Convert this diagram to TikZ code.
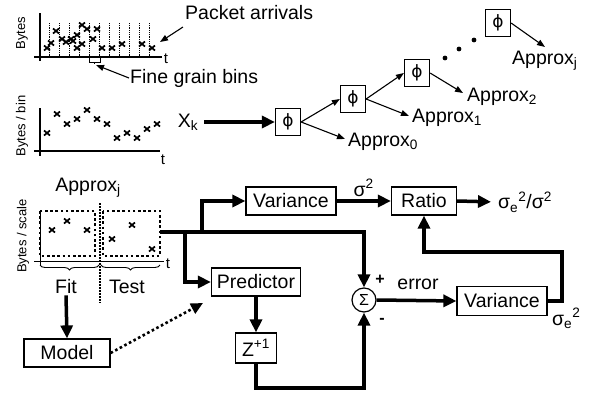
\documentclass[tikz,border=0pt]{standalone}
\usepackage{fontspec}
\setmainfont{Liberation Sans}
\newfontfamily\phifont{DejaVu Sans}
\usetikzlibrary{arrows.meta, decorations.pathreplacing}

\tikzset{
  lbl/.style={font=\fontsize{19.5}{21}\selectfont, inner sep=1pt},
  axlbl/.style={font=\fontsize{13}{15}\selectfont, rotate=90, inner sep=0pt},
  tlbl/.style={font=\fontsize{15}{17}\selectfont, inner sep=0pt},
  blk/.style={draw, line width=1.2pt, font=\fontsize{19.5}{21}\selectfont, minimum height=28pt, inner sep=0pt},
  phibox/.style={draw, line width=1.2pt, minimum width=25pt, minimum height=27pt, inner sep=0pt, font=\phifont\fontsize{17}{19}\selectfont},
  thinarr/.style={line width=1.1pt, -{Triangle[length=8pt,width=6pt]}},
  flow/.style={line width=3.5pt, -{Triangle[length=13pt,width=12pt]}},
  xm/.style={line width=1.7pt},
  binline/.style={densely dotted, line width=0.8pt},
  window/.style={line width=2.6pt, dash pattern=on 2.6pt off 2.6pt},
}

\begin{document}
\begin{tikzpicture}[x=1pt, y=-1pt]
\useasboundingbox (0,0) rectangle (590,394);

% packet arrivals plot
\draw[line width=2.2pt] (40,13) -- (40,61);
\draw[line width=2.2pt] (34,57) -- (162,57);
\node[tlbl] (t1) at (166,59) {t};
\node[axlbl] (ylab1) at (22,33) {Bytes};
\foreach \gx in {49,59,...,149}
  \draw[binline] (\gx,23) -- (\gx,57);
\foreach \cx/\cy in {47/48,51/43,56/31,62/39,66/42,71/39,73/41,77/35,77/48,82/25,82/44,87/29,93/39,97/29,102/48,112/48,122/44,142/44,152/48}
  \draw[xm] (\cx-3,\cy-2.5) -- (\cx+3,\cy+2.5) (\cx-3,\cy+2.5) -- (\cx+3,\cy-2.5);
\draw[line width=1pt] (89,58) -- (89,62) -- (100,62) -- (100,58) (94.5,62) -- (94.5,64);
\coordinate (bins) at (96,65);
\coordinate (pkts) at (160,42);
\node[lbl, anchor=west] (pa) at (184,13) {Packet arrivals};
\node[lbl, anchor=west] (fgb) at (129,78) {Fine grain bins};
\draw[thinarr] (183,27) -- (pkts);
\draw[thinarr] (fgb.west) -- (bins);

% binned series
\draw[line width=2.2pt] (40,108) -- (40,156);
\draw[line width=2.2pt] (34,151) -- (160,151);
\node[tlbl] (t2) at (163,160) {t};
\node[axlbl] (ylab2) at (22,126) {Bytes / bin};
\foreach \cx/\cy in {47/133,57/114,67/124,77/119,87/110,97/119,107/124,117/138,127/133,137/138,147/129,157/124}
  \draw[xm] (\cx-3,\cy-2.5) -- (\cx+3,\cy+2.5) (\cx-3,\cy+2.5) -- (\cx+3,\cy-2.5);

% wavelet tree
\node[lbl] (xk) at (188,122) {X\textsubscript{k}};
\node[phibox] (phi0) at (288,122) {ϕ};
\node[phibox] (phi1) at (353,99) {ϕ};
\node[phibox] (phi2) at (417,73) {ϕ};
\node[phibox] (phij) at (498,23) {ϕ};
\node[lbl, anchor=west] (a0) at (347,142) {Approx\textsubscript{0}};
\node[lbl, anchor=west] (a1) at (411,118) {Approx\textsubscript{1}};
\node[lbl, anchor=west] (a2) at (466,97) {Approx\textsubscript{2}};
\node[lbl, anchor=west] (aj) at (511,61) {Approx\textsubscript{j}};
\draw[flow] (204,122) -- (phi0.west);
\draw[thinarr] (phi0.east) -- (phi1.west);
\draw[thinarr] (phi0.east) -- (345,139);
\draw[thinarr] (phi1.east) -- (phi2.west);
\draw[thinarr] (phi1.east) -- (409,116);
\draw[thinarr] (phi2.east) -- (463,93);
\draw[thinarr] (phij.east) -- (545,47);
\foreach \dx/\dy in {445/58,459/49,474/40}
  \fill (\dx,\dy) circle (2.4pt);

% approximation split into fit and test
\node[lbl] (aprx) at (88,188) {Approx\textsubscript{j}};
\node[axlbl] (ylab3) at (23,236) {Bytes / scale};
\draw[line width=1pt] (40,212) -- (40,266);
\draw[line width=1pt] (34,261) -- (164,261);
\node[tlbl] (t3) at (168,264) {t};
\draw[window] (40,211) rectangle (95,256);
\draw[window] (103,211) rectangle (160,256);
\draw[dash pattern=on 1.5pt off 1.5pt, line width=1.2pt] (100,203) -- (100,303);
\foreach \cx/\cy in {52/230,67/221,87/230,112/239,132/225,152/249}
  \draw[xm] (\cx-3,\cy-2.5) -- (\cx+3,\cy+2.5) (\cx-3,\cy+2.5) -- (\cx+3,\cy-2.5);
\draw[line width=0.9pt, decorate, decoration={brace, mirror, amplitude=5pt}] (40,265) -- (99,265);
\draw[line width=0.9pt, decorate, decoration={brace, mirror, amplitude=5pt}] (101,265) -- (160,265);
\node[lbl] (fit) at (66,287) {Fit};
\node[lbl] (test) at (127,287) {Test};

% prediction loop
\node[blk, minimum width=90pt] (var1) at (291,201) {Variance};
\node[blk, minimum width=65pt] (ratio) at (424,201) {Ratio};
\node[lbl, anchor=west] (out) at (497,202) {σ\textsubscript{e}\textsuperscript{2}/σ\textsuperscript{2}};
\node[blk, minimum width=89pt] (pred) at (256,282) {Predictor};
\node[draw, circle, line width=1.2pt, minimum size=24pt, inner sep=0pt, font=\fontsize{16}{18}\selectfont] (sum) at (364,300) {Σ};
\node[blk, minimum width=90pt, minimum height=29pt] (var2) at (502,301) {Variance};
\node[blk, minimum width=41pt, minimum height=30pt] (zinv) at (256,348) {Z\textsuperscript{+1}};
\node[blk, minimum width=86pt] (model) at (67,353) {Model};

\coordinate (src) at (160,232);
\coordinate (br1) at (185,232);
\coordinate (br2) at (202,232);
\draw[flow] (src) -| (sum.north);
\draw[flow] (br1) |- (pred.west);
\draw[flow] (br2) |- (var1.west);
\draw[flow] (var1.east) -- node[lbl, above=2pt] (s2) {σ\textsuperscript{2}} (ratio.west);
\draw[flow, shorten >=6pt] (ratio.east) -- (out.west);
\draw[flow] (sum.east) -- (var2.west);
\draw[flow] (var2.east) -| (562,252) -| (ratio.south);
\node[lbl, anchor=north west] (se) at (551,307) {σ\textsubscript{e}\textsuperscript{2}};
\draw[flow] (pred.south) -- (zinv.north);
\draw[flow] (zinv.south) -- (256,388) -| (sum.south);
\node[font=\bfseries\fontsize{16}{18}\selectfont] (plus) at (380,280) {+};
\node[font=\bfseries\fontsize{16}{18}\selectfont] (minus) at (382,321) {-};
\node[lbl] (err) at (418,284) {error};
\draw[flow] (fit.south) -- (model.north);
\draw[line width=2.6pt, dash pattern=on 2.6pt off 2.6pt, -{Triangle[length=12pt,width=11pt]}] (model.east) -- (203,303);
\end{tikzpicture}
\end{document}
